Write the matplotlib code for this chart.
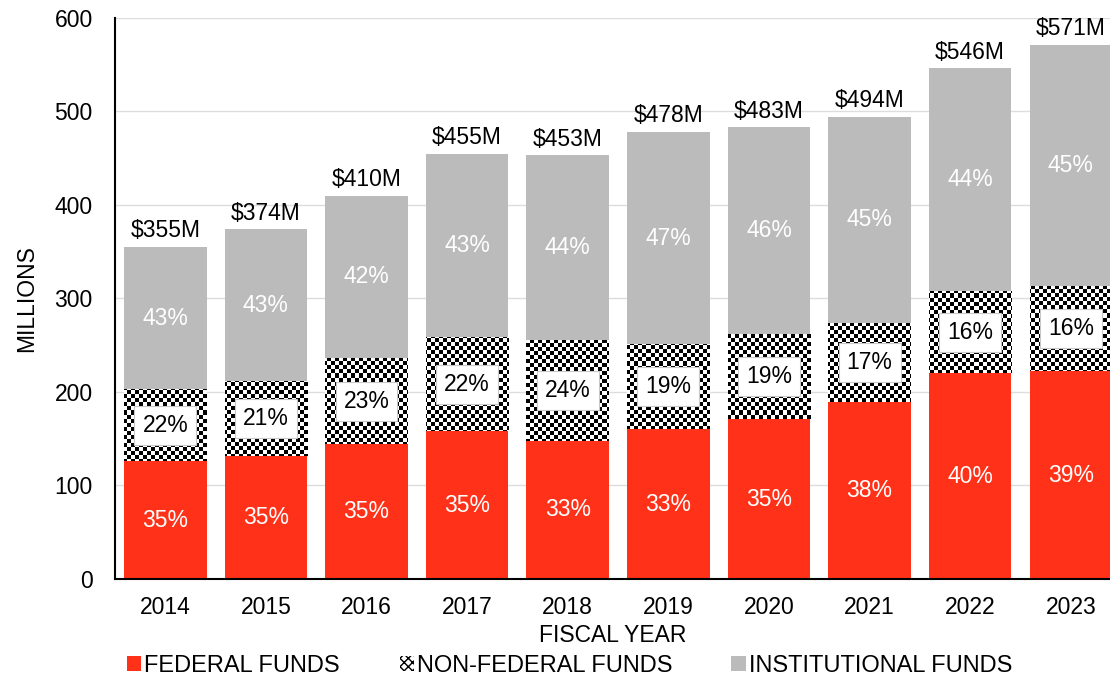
import numpy as np
import matplotlib
matplotlib.use("Agg")
import matplotlib.pyplot as plt
from matplotlib.patches import Patch

plt.rcParams['font.family'] = ['Liberation Sans', 'DejaVu Sans']

years = ['2014', '2015', '2016', '2017', '2018', '2019', '2020', '2021', '2022', '2023']
federal = [126, 131, 144, 158, 148, 160, 171, 189, 220, 222]
non_federal = [77, 81, 92, 101, 108, 91, 91, 85, 88, 91]
totals = [355, 374, 410, 455, 453, 478, 483, 494, 546, 571]
institutional = [t - f - n for t, f, n in zip(totals, federal, non_federal)]
fed_pct = ['35%', '35%', '35%', '35%', '33%', '33%', '35%', '38%', '40%', '39%']
nonfed_pct = ['22%', '21%', '23%', '22%', '24%', '19%', '19%', '17%', '16%', '16%']
inst_pct = ['43%', '43%', '42%', '43%', '44%', '47%', '46%', '45%', '44%', '45%']
total_labels = ['$355M', '$374M', '$410M', '$455M', '$453M', '$478M', '$483M', '$494M', '$546M', '$571M']

RED = '#FF3219'
GRAY = '#BBBBBB'
FS = 16.5

fig = plt.figure(figsize=(11.1, 6.81), dpi=100)
ax = fig.add_axes([0.1036, 0.1498, 0.8964, 0.8238])

x = np.arange(len(years))
w = 0.82
fed_bars = ax.bar(x, federal, w, color=RED, zorder=2)
nf_bottom = np.array(federal)
nf_bars = ax.bar(x, non_federal, w, bottom=nf_bottom, color='white', zorder=2)
inst_bottom = nf_bottom + np.array(non_federal)
inst_bars = ax.bar(x, institutional, w, bottom=inst_bottom, color=GRAY, zorder=2)

# checkerboard fill for non-federal bars (4 px cells)
checker = np.indices((140, 249)).sum(axis=0) % 2
for b in nf_bars:
    im = ax.imshow(checker, cmap='gray', interpolation='nearest', aspect='auto',
                   extent=(0, 1, 0, 1), transform=ax.transAxes, zorder=2.5)
    im.set_clip_path(b)

for i in range(len(years)):
    ax.text(x[i], federal[i] / 2, fed_pct[i], ha='center', va='center',
            color='white', fontsize=FS, zorder=4)
    ax.text(x[i], nf_bottom[i] + non_federal[i] / 2, nonfed_pct[i], ha='center',
            va='center', color='black', fontsize=FS, zorder=4,
            bbox=dict(boxstyle='square,pad=0.35', fc='white', ec='#C8C8C8', lw=0.8))
    ax.text(x[i], inst_bottom[i] + institutional[i] / 2, inst_pct[i], ha='center',
            va='center', color='white', fontsize=FS, zorder=4)
    ax.text(x[i], totals[i] + 5, total_labels[i], ha='center', va='bottom',
            color='black', fontsize=FS, zorder=4)

ax.set_ylim(0, 600)
ax.set_xlim(-0.5, 9.39)
ax.set_yticks(range(0, 601, 100))
ax.set_xticks(x)
ax.set_xticklabels(years)
ax.tick_params(axis='both', labelsize=FS, length=0)
ax.tick_params(axis='y', pad=16)
ax.tick_params(axis='x', pad=12)
ax.yaxis.grid(True, color='#DDDDDD', lw=1.0, zorder=0)
ax.set_axisbelow(True)
for s in ['top', 'right']:
    ax.spines[s].set_visible(False)
ax.spines['left'].set_linewidth(1.5)
ax.spines['bottom'].set_linewidth(1.5)
ax.set_ylabel('MILLIONS', fontsize=FS, labelpad=12)
ax.set_xlabel('FISCAL YEAR', fontsize=FS, labelpad=4)

handles = [Patch(facecolor=RED, edgecolor='none'),
           Patch(facecolor='white', edgecolor='black', hatch='xxxx', lw=0),
           Patch(facecolor=GRAY, edgecolor='none')]
names = ['FEDERAL FUNDS', 'NON-FEDERAL FUNDS', 'INSTITUTIONAL FUNDS']
xs = [0.114, 0.36, 0.659]
for h, n, xp in zip(handles, names, xs):
    fig.legend([h], [n], loc='center left', bbox_to_anchor=(xp, 0.022),
               frameon=False, fontsize=17, handlelength=0.6, handleheight=0.6,
               handletextpad=0.15, borderpad=0, borderaxespad=0)

fig.savefig('out.png', dpi=100)
